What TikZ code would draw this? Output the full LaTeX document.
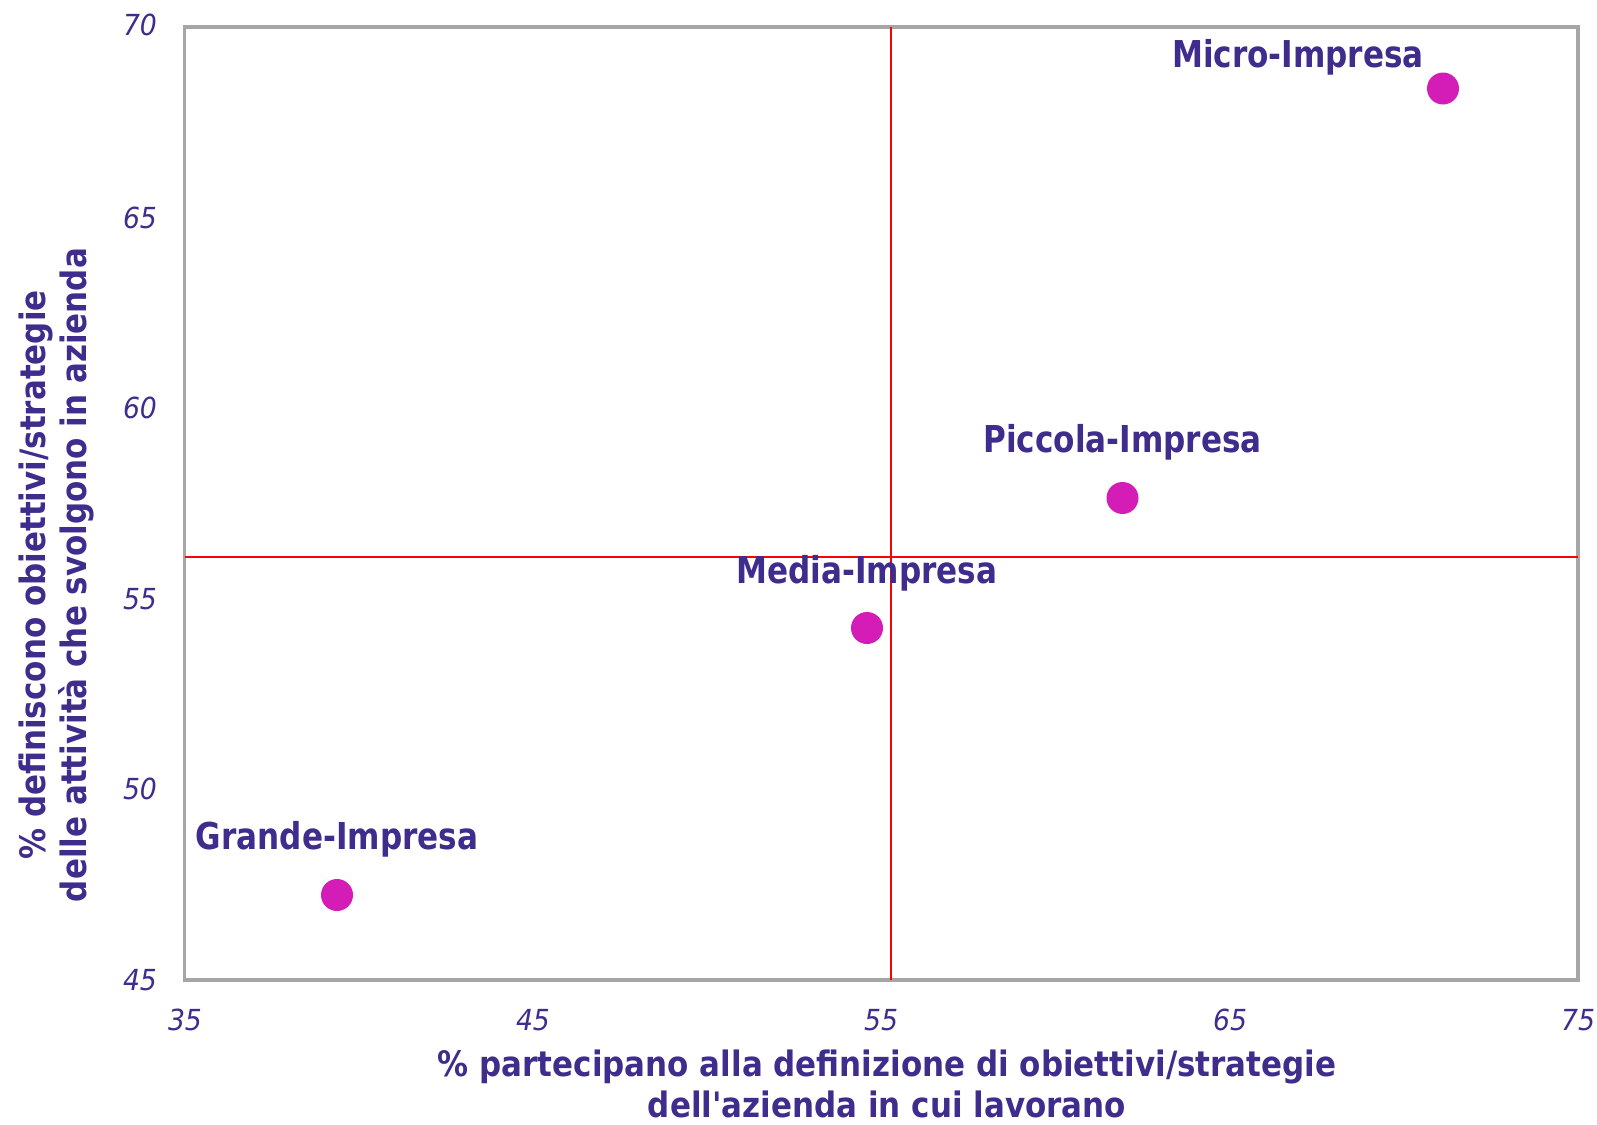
\documentclass[tikz,border=0pt]{standalone}
\usepackage{fontspec}
\setmainfont{DejaVu Sans}[FakeStretch=0.84]
\newfontfamily\tickfont{DejaVu Sans}[FakeStretch=0.92]
\newfontfamily\axfont{DejaVu Sans}[FakeStretch=0.885]
\definecolor{txt}{RGB}{64,44,140}
\definecolor{dotc}{RGB}{212,28,183}
\definecolor{framec}{RGB}{166,166,166}
\tikzset{
  pt/.style={circle,fill=dotc,inner sep=0pt,minimum size=16pt},
  ptlabel/.style={text=txt,font=\fontsize{18.5}{22}\selectfont\bfseries,inner sep=0pt},
  ticklab/.style={text=txt,font=\tickfont\fontsize{14.5}{16}\selectfont\itshape,inner sep=0pt},
  axtitle/.style={text=txt,font=\axfont\fontsize{17.5}{20.5}\selectfont\bfseries,align=center,inner sep=0pt},
  quad/.style={red,line width=1pt},
  framebox/.style={draw=framec,line width=1.6pt}
}
\begin{document}
\begin{tikzpicture}[x=0.5pt,y=-0.5pt]
\useasboundingbox (0,0) rectangle (1597,1125);
% frame
\draw[framebox] (184.5,27) rectangle (1578,980);
% quadrant lines
\draw[quad] (891,27) -- (891,980);
\draw[quad] (184.5,557) -- (1578,557);
% y tick labels
\node[ticklab] (y70) at (140,25) {70};
\node[ticklab] (y65) at (140,217.6) {65};
\node[ticklab] (y60) at (140,408.2) {60};
\node[ticklab] (y55) at (140,598.8) {55};
\node[ticklab] (y50) at (140,789.4) {50};
\node[ticklab] (y45) at (140,980) {45};
% x tick labels
\node[ticklab] (x35) at (185,1020) {35};
\node[ticklab] (x45) at (533,1020) {45};
\node[ticklab] (x55) at (881,1020) {55};
\node[ticklab] (x65) at (1230,1020) {65};
\node[ticklab] (x75) at (1578,1020) {75};
% points
\node[pt] (micro) at (1443,88.5) {};
\node[pt] (piccola) at (1122.5,498) {};
\node[pt] (media) at (867,628) {};
\node[pt] (grande) at (337,895) {};
% point labels
\node[ptlabel] (lmicro) at (1298,57) {Micro-Impresa};
\node[ptlabel] (lpiccola) at (1122.5,442) {Piccola-Impresa};
\node[ptlabel] (lmedia) at (867,573) {Media-Impresa};
\node[ptlabel] (lgrande) at (337,839) {Grande-Impresa};
% axis titles
\node[axtitle] (xtitle) at (887,1084) {\% partecipano alla definizione di obiettivi/strategie\\dell\symbol{39}azienda in cui lavorano};
\node[axtitle,rotate=90] (ytitle) at (56,575) {\% definiscono obiettivi/strategie\\delle attività che svolgono in azienda};
\end{tikzpicture}
\end{document}
